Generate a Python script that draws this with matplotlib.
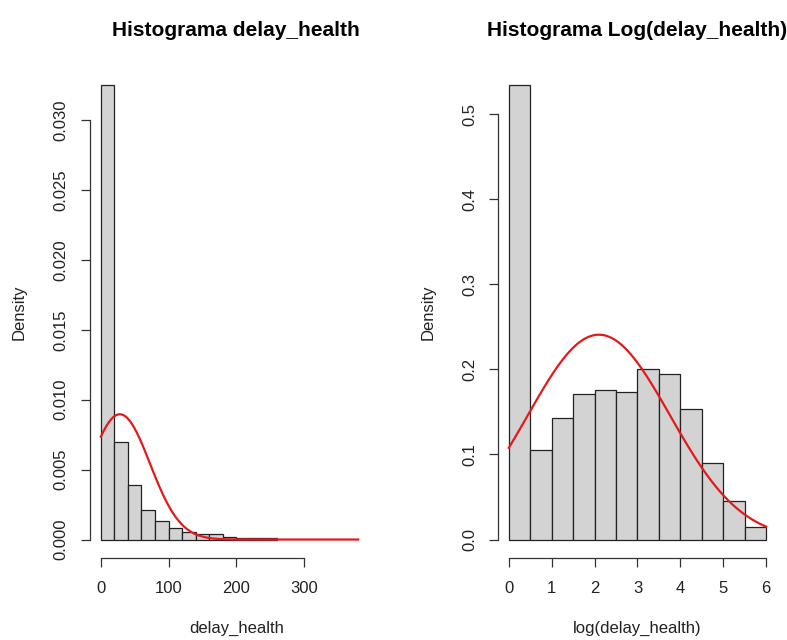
import numpy as np
import matplotlib
matplotlib.use('Agg')
import matplotlib.pyplot as plt

plt.rcParams['font.family'] = ['Liberation Sans', 'DejaVu Sans']

# left histogram: delay_health, bins of 20
raw_edges = [0, 20, 40, 60, 80, 100, 120, 140, 160, 180, 200, 220, 240, 260]
raw_density = [0.03252, 0.00701, 0.00387, 0.00208, 0.00131, 0.00084, 0.00053,
               0.00040, 0.00038, 0.00020, 0.00014, 0.00014, 0.00014]
raw_fit_mean = 28.0
raw_fit_sd = 44.5
raw_curve_range = (0, 380)

# right histogram: log(delay_health), bins of 0.5
log_edges = [0, 0.5, 1, 1.5, 2, 2.5, 3, 3.5, 4, 4.5, 5, 5.5, 6]
log_density = [0.534, 0.1048, 0.1429, 0.1712, 0.1763, 0.1735, 0.2002,
               0.194, 0.1539, 0.0903, 0.0455, 0.0149]
log_fit_mean = 2.10
log_fit_sd = 1.657
log_curve_range = (0, 6)


def dnorm(x, m, s):
    return np.exp(-(x - m) ** 2 / (2 * s ** 2)) / (s * np.sqrt(2 * np.pi))


def r_hist(ax, edges, dens, m, s, crange, xlim, ylim, xticks, yticks, ylabels,
           title, xlabel):
    edges = np.array(edges)
    ax.bar(edges[:-1], dens, width=np.diff(edges), align='edge',
           color='#d3d3d3', edgecolor='#222222', linewidth=0.9)
    xs = np.linspace(crange[0], crange[1], 101)
    ax.plot(xs, dnorm(xs, m, s), color='#e31a1c', lw=1.6)

    ax.set_xlim(*xlim)
    ax.set_ylim(*ylim)
    for side in ['top', 'right']:
        ax.spines[side].set_visible(False)
    ax.spines['left'].set_bounds(yticks[0], yticks[-1])
    ax.spines['bottom'].set_bounds(xticks[0], xticks[-1])
    for side in ['left', 'bottom']:
        ax.spines[side].set_color('#333333')
        ax.spines[side].set_linewidth(0.9)

    ax.set_xticks(xticks)
    ax.set_xticklabels([str(t) for t in xticks])
    ax.set_yticks(yticks)
    ax.set_yticklabels(ylabels, rotation=90, va='center')
    ax.tick_params(axis='both', length=6.5, width=0.9, color='#333333',
                   labelsize=12, labelcolor='#222222')
    ax.tick_params(axis='x', pad=10.5)
    ax.tick_params(axis='y', pad=9)

    ax.set_title(title, fontsize=15, fontweight='bold', pad=22)
    ax.set_xlabel(xlabel, fontsize=12, labelpad=18, color='#222222')
    ax.set_ylabel('Density', fontsize=12, labelpad=19, color='#222222')


W, H = 787, 640
fig = plt.figure(figsize=(W / 100, H / 100), dpi=100)

# left panel: pixel box 90..383 x, 67..557.7 y
ax1 = fig.add_axes([90 / W, (H - 557.7) / H, (382.6 - 90) / W, (557.7 - 67) / H])
r_hist(ax1, raw_edges, raw_density, raw_fit_mean, raw_fit_sd, raw_curve_range,
       (-16, 416), (-0.0013, 0.0338),
       [0, 100, 200, 300],
       [0, 0.005, 0.010, 0.015, 0.020, 0.025, 0.030],
       ['0.000', '0.005', '0.010', '0.015', '0.020', '0.025', '0.030'],
       'Histograma delay_health', 'delay_health')

ax2 = fig.add_axes([498.5 / W, (H - 557.7) / H, (776.5 - 498.5) / W, (557.7 - 67) / H])
r_hist(ax2, log_edges, log_density, log_fit_mean, log_fit_sd, log_curve_range,
       (-0.24, 6.24), (-0.02136, 0.5554),
       [0, 1, 2, 3, 4, 5, 6],
       [0, 0.1, 0.2, 0.3, 0.4, 0.5],
       ['0.0', '0.1', '0.2', '0.3', '0.4', '0.5'],
       'Histograma Log(delay_health)', 'log(delay_health)')

fig.savefig('out.png', dpi=100)
